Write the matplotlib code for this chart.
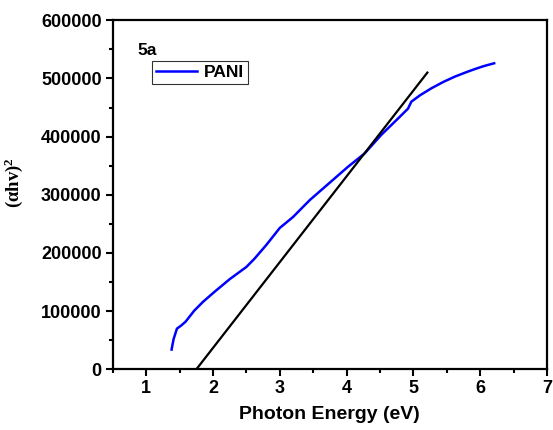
import matplotlib
matplotlib.use('Agg')
import matplotlib.pyplot as plt
from matplotlib.ticker import MultipleLocator

# Tauc plot data for PANI: photon energy (eV) vs (alpha h nu)^2
energy = [1.38, 1.41, 1.46, 1.52, 1.59, 1.72, 1.85, 2.02, 2.25, 2.50, 2.62,
          2.80, 3.00, 3.20, 3.45, 3.70, 4.02, 4.27, 4.52, 4.77, 4.92, 4.97,
          5.10, 5.27, 5.45, 5.62, 5.80, 5.92, 6.05, 6.21]
ahv2 = [34000, 52000, 70000, 75000, 82000, 101000, 116000, 133000, 155000, 176000, 190000,
        214000, 243000, 262000, 291000, 316000, 348000, 371000, 403000, 431000, 448000, 460000,
        471000, 483000, 494000, 503000, 511000, 516000, 521000, 526000]

# linear fit extrapolated to the energy axis
fit_x = [1.75, 5.21]
fit_y = [0, 510000]

plt.rcParams['font.family'] = ['Liberation Sans', 'DejaVu Sans']
plt.rcParams['font.weight'] = 'bold'
plt.rcParams['mathtext.fontset'] = 'custom'
plt.rcParams['mathtext.rm'] = 'Liberation Serif:bold'
plt.rcParams['mathtext.it'] = 'Liberation Serif:bold'
plt.rcParams['mathtext.bf'] = 'Liberation Serif:bold'

fig = plt.figure(figsize=(5.53, 4.30), dpi=100)
ax = fig.add_axes([0.204, 0.141, 0.785, 0.812])

ax.plot(energy, ahv2, color='#0000ff', lw=1.8, label='PANI')
ax.plot(fit_x, fit_y, color='black', lw=1.6)

ax.set_xlim(0.5, 7)
ax.set_ylim(0, 600000)
ax.xaxis.set_major_locator(MultipleLocator(1))
ax.xaxis.set_minor_locator(MultipleLocator(0.5))
ax.yaxis.set_major_locator(MultipleLocator(100000))
ax.yaxis.set_minor_locator(MultipleLocator(50000))
ax.tick_params(which='both', direction='out', width=1.5, labelsize=13)
ax.tick_params(which='major', length=5, pad=3)
ax.tick_params(which='minor', length=3)
for lab in ax.get_xticklabels() + ax.get_yticklabels():
    lab.set_fontweight('bold')
for sp in ax.spines.values():
    sp.set_linewidth(1.6)

ax.set_xlabel('Photon Energy (eV)', fontsize=14, fontweight='bold', labelpad=6)
ax.set_ylabel(r'$\mathrm{(\alpha hv)^2}$', fontsize=13.5)
ax.yaxis.set_label_coords(-0.202, 0.535)

ax.text(0.057, 0.90, '5a', transform=ax.transAxes, fontsize=12.5, fontweight='bold')
leg = ax.legend(loc='upper left', bbox_to_anchor=(0.090, 0.883), fontsize=12.5,
                frameon=True, fancybox=False, edgecolor='black', handlelength=2.4,
                borderpad=0.22, borderaxespad=0, handletextpad=0.4)
leg.get_frame().set_linewidth(0.8)
for t in leg.get_texts():
    t.set_fontweight('bold')

fig.savefig('out.png', dpi=100)
